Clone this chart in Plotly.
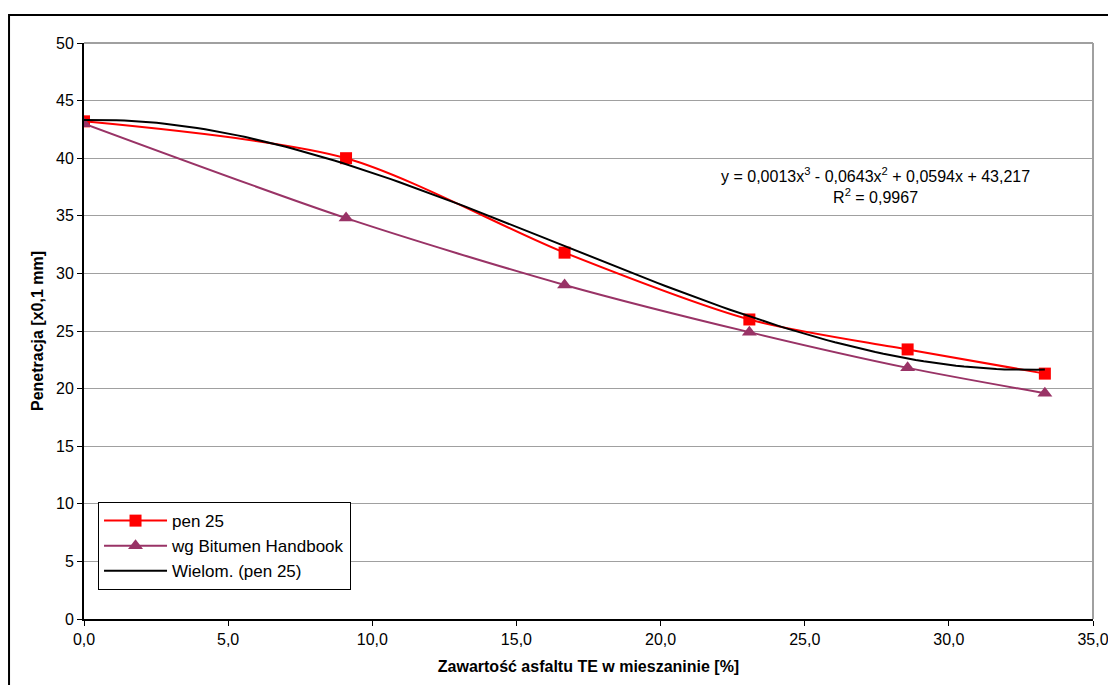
import numpy as np
import plotly.graph_objects as go

# Data
x_content = [0.0, 9.09, 16.67, 23.08, 28.57, 33.33]
pen25 = [43.2, 40.0, 31.8, 26.0, 23.4, 21.3]
bitumen_handbook = [43.0, 34.8, 29.0, 24.9, 21.8, 19.6]
x_ticks = [0, 5, 10, 15, 20, 25, 30, 35]
y_ticks = [0, 5, 10, 15, 20, 25, 30, 35, 40, 45, 50]

# Polynomial (3rd order) trendline fitted to pen 25
coef = np.polyfit(x_content, pen25, 3)
xt = np.linspace(min(x_content), max(x_content), 120)
yt = np.polyval(coef, xt)

FONT = "Liberation Sans, Arial, sans-serif"
FS = 16

fig = go.Figure()
fig.add_trace(go.Scatter(
    x=x_content, y=pen25, name="pen 25", mode="lines+markers",
    line=dict(color="#ff0000", width=2, shape="spline", smoothing=0.8),
    marker=dict(symbol="square", size=12, color="#ff0000"),
))
fig.add_trace(go.Scatter(
    x=x_content, y=bitumen_handbook, name="wg Bitumen Handbook", mode="lines+markers",
    line=dict(color="#993366", width=2, shape="spline", smoothing=0.8),
    marker=dict(symbol="triangle-up", size=13, color="#993366"),
))
fig.add_trace(go.Scatter(
    x=xt, y=yt, name="Wielom. (pen 25)", mode="lines",
    line=dict(color="#000000", width=2),
))

fig.add_annotation(
    x=27.44, y=37.63, xref="x", yref="y",
    text="y = 0,0013x<sup>3</sup> - 0,0643x<sup>2</sup> + 0,0594x + 43,217<br>R<sup>2</sup> = 0,9967",
    showarrow=False, align="center", font=dict(family=FONT, size=FS, color="#000000"),
)

# outer chart frame
fig.add_shape(type="rect", xref="paper", yref="paper",
              x0=-0.0743, x1=1.04, y0=-0.2, y1=1.0486,
              line=dict(color="#000000", width=2), layer="below")

fig.update_layout(
    width=1100, height=677,
    margin=dict(l=76, r=15, t=35, b=66, autoexpand=False),
    paper_bgcolor="white", plot_bgcolor="white",
    separators=", ",
    font=dict(family=FONT, size=FS, color="#000000"),
    showlegend=True,
    legend=dict(
        x=0.0139, y=0.203, xanchor="left", yanchor="top",
        bordercolor="#000000", borderwidth=1, bgcolor="white",
        font=dict(family=FONT, size=17, color="#000000"),
        itemwidth=63, tracegroupgap=0,
    ),
    xaxis=dict(
        range=[0, 35], tickvals=x_ticks, tickformat=".1f",
        showgrid=False, zeroline=False, automargin=False,
        showline=True, linecolor="#000000", linewidth=2, mirror=False,
        ticks="outside", ticklen=5, tickcolor="#000000",
        tickfont=dict(family=FONT, size=FS), ticklabeloverflow="allow",
        title=dict(text="<b>Zawartość asfaltu TE w mieszaninie [%]</b>",
                   font=dict(family=FONT, size=FS), standoff=14),
    ),
    yaxis=dict(
        range=[0, 50], tickvals=y_ticks, automargin=False,
        showgrid=True, gridcolor="#a0a0a0", gridwidth=1, zeroline=False,
        showline=True, linecolor="#000000", linewidth=2,
        ticks="outside", ticklen=5, tickcolor="#000000",
        tickfont=dict(family=FONT, size=FS),
        title=dict(text="<b>Penetracja [x0,1 mm]</b>",
                   font=dict(family=FONT, size=FS), standoff=8),
    ),
)

# gray plot-area border on top and right
fig.add_shape(type="line", xref="paper", yref="paper", x0=0, x1=1, y0=1, y1=1,
              line=dict(color="#a0a0a0", width=2))
fig.add_shape(type="line", xref="paper", yref="paper", x0=1, x1=1, y0=0, y1=1,
              line=dict(color="#a0a0a0", width=2))

fig.write_html("out.html")
